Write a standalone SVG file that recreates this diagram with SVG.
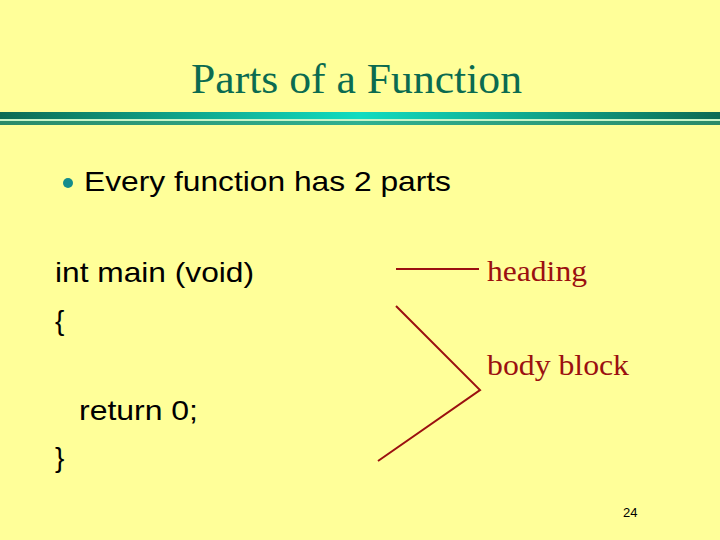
<svg xmlns="http://www.w3.org/2000/svg" width="720" height="540" viewBox="0 0 720 540">
<defs>
<linearGradient id="bar" x1="0" y1="0" x2="1" y2="0">
<stop offset="0" stop-color="#0e6b54"/>
<stop offset="0.5" stop-color="#12dcc0"/>
<stop offset="1" stop-color="#0e6b54"/>
</linearGradient>
<linearGradient id="bar2" x1="0" y1="0" x2="1" y2="0">
<stop offset="0" stop-color="#2a8a68"/>
<stop offset="0.5" stop-color="#30b090"/>
<stop offset="1" stop-color="#2a8a68"/>
</linearGradient>
</defs>
<style>
.title{font-family:"Liberation Serif",serif;font-size:42px;fill:#0b6b50}
.body{font-family:"Liberation Sans",sans-serif;font-size:28px;fill:#000}
.lbl{font-family:"Liberation Serif",serif;font-size:29px;fill:#9b1010}
.conn{stroke:#9b1010;stroke-width:2;fill:none}
</style>
<rect width="720" height="540" fill="#ffff99"/>
<g id="header">
<text class="title" x="191" y="93" textLength="331" lengthAdjust="spacingAndGlyphs">Parts of a Function</text>
<rect x="0" y="112" width="720" height="7" fill="url(#bar)"/>
<rect x="0" y="119" width="720" height="2" fill="#c8f4c8"/>
<rect x="0" y="121" width="720" height="4" fill="url(#bar2)"/>
</g>
<g id="bullet">
<circle cx="68" cy="183" r="5" fill="#148c8c"/>
<text class="body" x="84" y="191" textLength="367" lengthAdjust="spacingAndGlyphs">Every function has 2 parts</text>
</g>
<g id="code">
<text class="body" x="55" y="282" textLength="199" lengthAdjust="spacingAndGlyphs">int main (void)</text>
<text class="body" x="55" y="330">{</text>
<text class="body" x="79" y="420" textLength="119" lengthAdjust="spacingAndGlyphs">return 0;</text>
<text class="body" x="55" y="467">}</text>
</g>
<g id="heading"><text class="lbl" x="487" y="281" textLength="100" lengthAdjust="spacingAndGlyphs">heading</text></g>
<g id="body-block"><text class="lbl" x="487" y="375" textLength="142" lengthAdjust="spacingAndGlyphs">body block</text></g>
<g id="connectors">
<line class="conn" x1="396" y1="269" x2="479" y2="269"/>
<polyline class="conn" points="396,306 480,390 378,461"/>
</g>
<text x="623" y="517" font-family="Liberation Sans, sans-serif" font-size="13" fill="#000">24</text>
</svg>
